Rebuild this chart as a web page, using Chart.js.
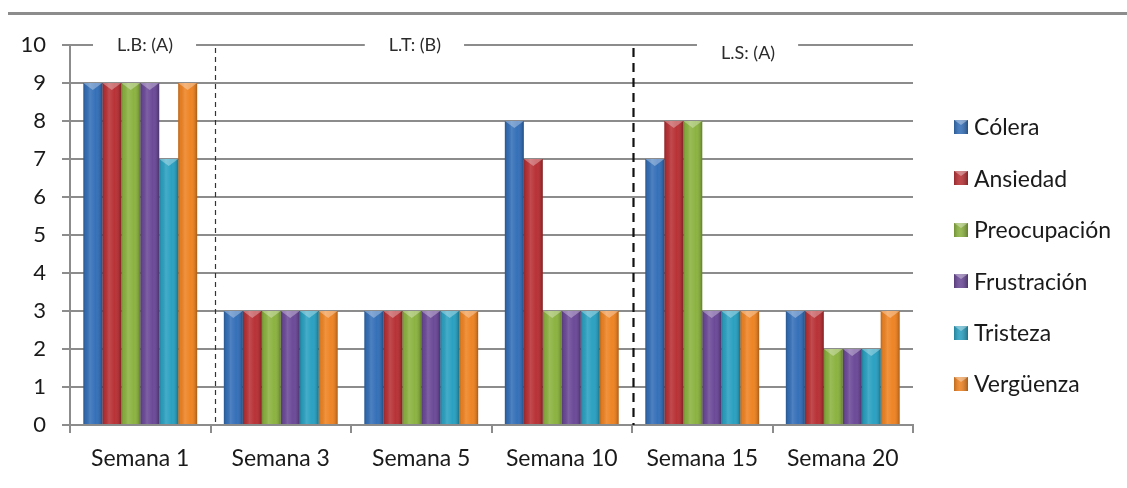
<!DOCTYPE html>
<html lang="es">
<head>
<meta charset="utf-8">
<title>Emociones por semana</title>
<script src="https://cdn.jsdelivr.net/npm/chart.js@4.4.1/dist/chart.umd.min.js"></script>
<style>
  html, body { margin: 0; padding: 0; background: #ffffff; }
  #wrap { position: relative; width: 1127px; height: 488px; }
</style>
</head>
<body>
<div id="wrap"><canvas id="chart" width="1127" height="488"></canvas></div>
<script>
// Categorías (semanas) y valores por emoción
const categories = ['Semana 1', 'Semana 3', 'Semana 5', 'Semana 10', 'Semana 15', 'Semana 20'];
const seriesNames = ['Cólera', 'Ansiedad', 'Preocupación', 'Frustración', 'Tristeza', 'Vergüenza'];
const colera       = [9, 3, 3, 8, 7, 3];
const ansiedad     = [9, 3, 3, 7, 8, 3];
const preocupacion = [9, 3, 3, 3, 8, 2];
const frustracion  = [9, 3, 3, 3, 3, 2];
const tristeza     = [7, 3, 3, 3, 3, 2];
const verguenza    = [9, 3, 3, 3, 3, 3];
const yTicks = [0, 1, 2, 3, 4, 5, 6, 7, 8, 9, 10];

// Fases del estudio (línea base, tratamiento, seguimiento)
const phaseLabels = ['L.B: (A)', 'L.T: (B)', 'L.S: (A)'];

// Estilo
const seriesColors = ['#3570b8', '#b83236', '#8cb341', '#6c4a98', '#2ba1c1', '#ee8424'];
const GRID = '#8c8c8c';
const TEXT = '#1a1a1a';
const FONT = 'Lato, "Noto Sans", sans-serif';

// Posición de las etiquetas de fase (en unidades de categoría) y su desplazamiento vertical
const phaseLayout = [
  { center: 0.034, dy: 0 },
  { center: 1.955, dy: 0 },
  { center: 4.326, dy: 8 }
];
// Separadores de fase (en unidades de categoría)
const phaseDividers = [
  { at: 0.53, width: 1.2, dash: [5, 4], color: '#333333' },
  { at: 3.51, width: 2.2, dash: [9, 6], color: '#111111' }
];

const seriesValues = [colera, ansiedad, preocupacion, frustracion, tristeza, verguenza];

const datasets = seriesNames.map((name, i) => ({
  label: name,
  data: seriesValues[i],
  backgroundColor: seriesColors[i],
  borderWidth: 0,
  barPercentage: 1.0,
  categoryPercentage: 0.81
}));

// Sombreado tipo cilindro sobre cada barra
const barShading = {
  id: 'barShading',
  afterDatasetsDraw(chart) {
    const ctx = chart.ctx;
    chart.data.datasets.forEach((ds, di) => {
      const meta = chart.getDatasetMeta(di);
      meta.data.forEach(bar => {
        const left = bar.x - bar.width / 2;
        const right = bar.x + bar.width / 2;
        const top = Math.min(bar.y, bar.base);
        const bottom = Math.max(bar.y, bar.base);
        ctx.save();
        const g = ctx.createLinearGradient(left, 0, right, 0);
        g.addColorStop(0, 'rgba(0,0,0,0.22)');
        g.addColorStop(0.12, 'rgba(0,0,0,0.05)');
        g.addColorStop(0.35, 'rgba(255,255,255,0.12)');
        g.addColorStop(0.65, 'rgba(255,255,255,0.0)');
        g.addColorStop(0.9, 'rgba(0,0,0,0.12)');
        g.addColorStop(1, 'rgba(0,0,0,0.3)');
        ctx.fillStyle = g;
        ctx.fillRect(left, top, right - left, bottom - top);
        // bisel superior
        ctx.beginPath();
        ctx.moveTo(left, top);
        ctx.lineTo(right, top);
        ctx.lineTo(bar.x, top + 7);
        ctx.closePath();
        ctx.fillStyle = 'rgba(255,255,255,0.32)';
        ctx.fill();
        ctx.restore();
      });
    });
  }
};

// Línea superior, línea del valor 10 con etiquetas de fase y separadores punteados
const phaseDecor = {
  id: 'phaseDecor',
  afterDraw(chart) {
    const ctx = chart.ctx;
    const x = chart.scales.x;
    const y = chart.scales.y;
    const area = chart.chartArea;
    ctx.save();

    // línea horizontal superior
    ctx.strokeStyle = GRID;
    ctx.lineWidth = 3;
    ctx.beginPath();
    ctx.moveTo(8, 13.5);
    ctx.lineTo(chart.width, 13.5);
    ctx.stroke();

    // línea del 10 interrumpida por las etiquetas
    const y10 = Math.round(y.getPixelForValue(10));
    ctx.font = '18px ' + FONT;
    ctx.textBaseline = 'middle';
    ctx.textAlign = 'center';
    const gaps = phaseLabels.map((t, i) => {
      const cx = x.getPixelForValue(phaseLayout[i].center);
      const w = ctx.measureText(t).width;
      return { t, cx, w, dy: phaseLayout[i].dy };
    });
    ctx.strokeStyle = GRID;
    ctx.lineWidth = 2;
    let start = area.left;
    ctx.beginPath();
    gaps.forEach(g => {
      ctx.moveTo(start, y10);
      ctx.lineTo(g.cx - g.w / 2 - 24, y10);
      start = g.cx + g.w / 2 + 23;
    });
    ctx.moveTo(start, y10);
    ctx.lineTo(area.right, y10);
    ctx.stroke();
    ctx.fillStyle = '#2b2b2b';
    gaps.forEach(g => ctx.fillText(g.t, g.cx, y10 + g.dy));

    // separadores de fase
    phaseDividers.forEach(d => {
      const px = Math.round(x.getPixelForValue(d.at)) + 0.5;
      ctx.strokeStyle = d.color;
      ctx.lineWidth = d.width;
      ctx.setLineDash(d.dash);
      ctx.beginPath();
      ctx.moveTo(px, y10 + 3);
      ctx.lineTo(px, area.bottom);
      ctx.stroke();
    });
    ctx.setLineDash([]);

    // leyenda
    const lx = 954, ly0 = 127, step = 51.4, box = 14;
    ctx.font = '23px ' + FONT;
    ctx.textAlign = 'left';
    ctx.textBaseline = 'middle';
    chart.data.datasets.forEach((ds, i) => {
      const cy = ly0 + i * step;
      const bx = lx, by = Math.round(cy - box / 2);
      ctx.fillStyle = ds.backgroundColor;
      ctx.fillRect(bx, by, box, box);
      const g = ctx.createLinearGradient(bx, 0, bx + box, 0);
      g.addColorStop(0, 'rgba(0,0,0,0.2)');
      g.addColorStop(0.4, 'rgba(255,255,255,0.1)');
      g.addColorStop(1, 'rgba(0,0,0,0.3)');
      ctx.fillStyle = g;
      ctx.fillRect(bx, by, box, box);
      ctx.beginPath();
      ctx.moveTo(bx, by);
      ctx.lineTo(bx + box, by);
      ctx.lineTo(bx + box / 2, by + 5);
      ctx.closePath();
      ctx.fillStyle = 'rgba(255,255,255,0.35)';
      ctx.fill();
      ctx.fillStyle = TEXT;
      ctx.fillText(ds.label, lx + 20, cy + 1);
    });
    ctx.restore();
  }
};

new Chart(document.getElementById('chart'), {
  type: 'bar',
  data: { labels: categories, datasets },
  options: {
    responsive: false,
    animation: false,
    events: [],
    layout: { padding: { top: 45, right: 214, bottom: 0, left: 0 } },
    plugins: {
      legend: { display: false },
      tooltip: { enabled: false }
    },
    scales: {
      x: {
        grid: {
          offset: true,
          drawOnChartArea: false,
          drawTicks: true,
          tickLength: 8,
          color: GRID,
          lineWidth: 2
        },
        border: { color: GRID, width: 2 },
        ticks: {
          color: TEXT,
          font: { family: FONT, size: 23 },
          padding: 12,
          maxRotation: 0
        },
        afterFit(scale) { scale.height = 63; }
      },
      y: {
        min: 0,
        max: 10,
        afterBuildTicks(scale) { scale.ticks = yTicks.map(v => ({ value: v })); },
        grid: {
          color: ctx => (ctx.tick && ctx.tick.value === 10) ? 'rgba(0,0,0,0)' : GRID,
          tickColor: GRID,
          lineWidth: 2,
          tickLength: 8
        },
        border: { color: GRID, width: 2 },
        ticks: {
          color: TEXT,
          font: { family: FONT, size: 22 },
          padding: 16
        },
        afterFit(scale) { scale.width = 70; }
      }
    }
  },
  plugins: [barShading, phaseDecor]
});
</script>
</body>
</html>
